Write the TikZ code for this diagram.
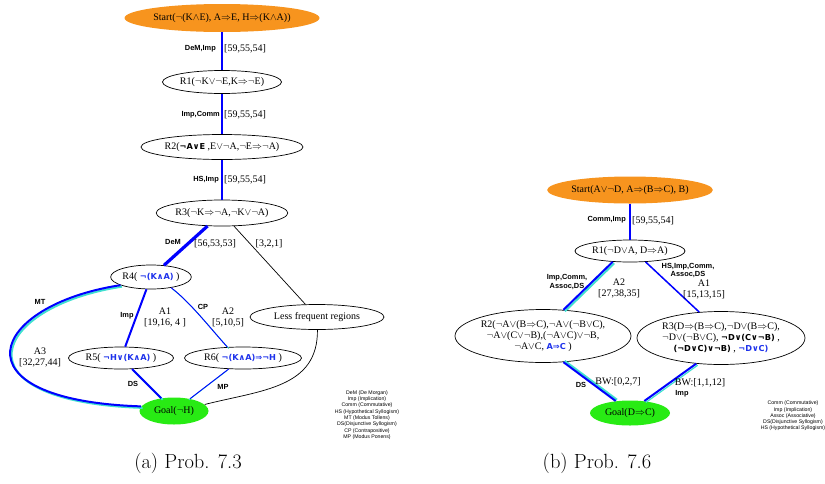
\documentclass[tikz,border=0pt]{standalone}
\usepackage{fontspec}
\newfontfamily\tms{Liberation Serif}
\newfontfamily\lsans{Liberation Sans}
\newfontfamily\bsym{DejaVu Sans}
\usetikzlibrary{shapes.geometric}
\definecolor{orng}{RGB}{247,148,30}
\definecolor{grn}{RGB}{40,235,20}
\definecolor{bl}{RGB}{0,0,255}
\definecolor{cy}{RGB}{64,224,208}
\definecolor{tb}{RGB}{30,50,235}
\newcommand{\qneg}{\ensuremath{\neg}}
\newcommand{\qand}{\ensuremath{\wedge}}
\newcommand{\qor}{\ensuremath{\vee}}
\newcommand{\qimp}{\ensuremath{\Rightarrow}}
\newcommand{\bform}[1]{{\bsym\bfseries\fontsize{8.2}{10}\selectfont #1}}
\newcommand{\bformc}[1]{{\color{tb}\bsym\bfseries\fontsize{8.2}{10}\selectfont #1}}
\begin{document}
\begin{tikzpicture}[x=1pt,y=-1pt,
  nd/.style={ellipse, draw=black, line width=0.7pt, inner sep=0pt, font=\tms\fontsize{10}{11}\selectfont, align=center},
  lab/.style={font=\lsans\bfseries\fontsize{7.4}{8.6}\selectfont, inner sep=0pt, align=center},
  num/.style={font=\tms\fontsize{10}{11}\selectfont, inner sep=0pt, align=center},
  leg/.style={font=\lsans\fontsize{5.2}{6.3}\selectfont, inner sep=0pt, align=center},
  captxt/.style={font=\fontsize{20.5}{24}\selectfont, inner sep=0pt},
  thk/.style={draw=bl, line width=2.8pt},
  med/.style={draw=bl, line width=2pt},
  thn/.style={draw=bl, line width=0.9pt},
  blk/.style={draw=black, line width=0.7pt},
  cyshift/.style={transform canvas={shift={(1.5pt,-1.5pt)}}}
]
\useasboundingbox (0,0) rectangle (825,483);

% ---------- left diagram ----------
\node[nd, fill=orng, draw=none, minimum width=195pt, minimum height=28pt] (sL) at (222,18) {Start(\qneg(K\qand E), A\qimp E, H\qimp(K\qand A))};
\node[nd, minimum width=115pt, minimum height=23pt] (r1L) at (222,82) {R1(\qneg K\qor\qneg E,K\qimp\qneg E)};
\node[nd, minimum width=150pt, minimum height=25pt] (r2L) at (222,147) {R2(\bform{¬A∨E} ,E\qor\qneg A,\qneg E\qimp\qneg A)};
\node[nd, minimum width=125pt, minimum height=26pt] (r3L) at (222,213) {R3(\qneg K\qimp\qneg A,\qneg K\qor\qneg A)};
\node[nd, minimum width=76pt, minimum height=24pt] (r4L) at (151,277) {R4( \bformc{¬(K∧A)} )};
\node[nd, minimum width=105pt, minimum height=22pt] (r5L) at (121,358) {R5( \bformc{¬H∨(K∧A)} )};
\node[nd, minimum width=117pt, minimum height=22pt] (r6L) at (243,358) {R6( \bformc{¬(K∧A)⇒¬H} )};
\node[nd, minimum width=134pt, minimum height=25pt] (lessL) at (317,317) {Less frequent regions};
\node[nd, fill=grn, draw=none, minimum width=69pt, minimum height=27pt] (gL) at (174,411) {Goal(\qneg H)};

\draw[thk] (sL) -- (r1L);
\draw[thk] (r1L) -- (r2L);
\draw[thk] (r2L) -- (r3L);
\draw[draw=bl, line width=3.2pt] (r3L) -- (r4L);
\draw[blk] (r3L) -- (lessL);
\draw[med] (r4L) -- (r5L);
\draw[draw=cy, line width=2pt, cyshift] (r4L.195) .. controls (-10,305) and (-50,400) .. (gL.172);
\draw[med] (r4L.195) .. controls (-10,305) and (-50,400) .. (gL.172);
\draw[draw=cy, line width=0.9pt, cyshift] (r4L.-28) .. controls (190,302) and (210,328) .. (r6L.145);
\draw[thn] (r4L.-28) .. controls (190,302) and (210,328) .. (r6L.145);
\draw[draw=cy, line width=2pt, cyshift] (r5L) -- (gL);
\draw[med] (r5L) -- (gL);
\draw[draw=cy, line width=0.9pt, transform canvas={shift={(-1.2pt,-1.2pt)}}] (r6L) -- (gL);
\draw[thn] (r6L) -- (gL);
\draw[blk] (lessL.-88) .. controls (318,388) and (262,390) .. (gL.12);

\node[lab, anchor=east] (l1) at (216,49) {DeM,Imp};
\node[num, anchor=west] (n1) at (224,49) {[59,55,54]};
\node[lab, anchor=east] (l2) at (220,115) {Imp,Comm};
\node[num, anchor=west] (n2) at (224,115) {[59,55,54]};
\node[lab, anchor=east] (l3) at (219,180) {HS,Imp};
\node[num, anchor=west] (n3) at (224,180) {[59,55,54]};
\node[lab] (l4) at (173,242) {DeM};
\node[num] (n4) at (215,244) {[56,53,53]};
\node[num] (n5) at (269,244) {[3,2,1]};
\node[lab] (l5) at (127,316) {Imp};
\node[num] (n6) at (165,317) {A1\\{}[19,16, 4 ]};
\node[lab] (l6) at (203,307) {CP};
\node[num] (n7) at (228,317) {A2\\{}[5,10,5]};
\node[lab] (l7) at (40,302) {MT};
\node[num] (n8) at (40,357) {A3\\{}[32,27,44]};
\node[lab] (l8) at (133,384) {DS};
\node[lab] (l9) at (223,387) {MP};
\node[leg] (legL) at (367,415) {DeM (De Morgan)\\Imp (Implication)\\Comm (Commutative)\\HS (Hypothetical Syllogism)\\MT (Modus Tollens)\\DS(Disjunctive Syllogism)\\CP (Contrapositive)\\MP (Modus Ponens)};

% ---------- right diagram ----------
\node[nd, fill=orng, draw=none, minimum width=165pt, minimum height=27pt] (sR) at (630,190) {Start(A\qor\qneg D, A\qimp(B\qimp C), B)};
\node[nd, minimum width=110pt, minimum height=22pt] (r1R) at (630,251) {R1(\qneg D\qor A, D\qimp A)};
\node[nd, minimum width=167pt, minimum height=53pt] (r2R) at (543,336) {R2(\qneg A\qor(B\qimp C),\qneg A\qor(\qneg B\qor C),\\\qneg A\qor(C\qor\qneg B),(\qneg A\qor C)\qor\qneg B,\\\qneg A\qor C, \bformc{A⇒C} )};
\node[nd, minimum width=168pt, minimum height=53pt] (r3R) at (721,338) {R3(D\qimp(B\qimp C),\qneg D\qor(B\qimp C),\\\qneg D\qor(\qneg B\qor C), \bform{¬D∨(C∨¬B)} ,\\\bform{(¬D∨C)∨¬B)} , \bformc{¬D∨C)}};
\node[nd, fill=grn, draw=none, minimum width=80pt, minimum height=25pt] (gR) at (630,413) {Goal(D\qimp C)};

\draw[thk] (sR) -- (r1R);
\draw[draw=cy, line width=2pt, cyshift] (r1R.212) -- (r2R.52);
\draw[med] (r1R.212) -- (r2R.52);
\draw[draw=bl, line width=1.5pt] (r1R.-35) -- (r3R.130);
\draw[draw=cy, line width=2pt, transform canvas={shift={(1.3pt,1.3pt)}}] (r2R.-52) -- (gR.140);
\draw[med] (r2R.-52) -- (gR.140);
\draw[draw=cy, line width=1.2pt, cyshift] (r3R.-134) -- (gR.40);
\draw[med] (r3R.-134) -- (gR.40);

\node[lab, anchor=east] (l10) at (626,220) {Comm,Imp};
\node[num, anchor=west] (n10) at (632,221) {[59,55,54]};
\node[lab] (l11) at (567,282) {Imp,Comm,\\Assoc,DS};
\node[num] (n11) at (619,288) {A2\\{}[27,38,35]};
\node[lab] (l12) at (688,270.5) {HS,Imp,Comm,\\Assoc,DS};
\node[num] (n12) at (704,289.5) {A1\\{}[15,13,15]};
\node[lab] (l13) at (581,385) {DS};
\node[num] (n13) at (618,382) {BW:[0,2,7]};
\node[num] (n14) at (700,383) {BW:[1,1,12]};
\node[lab] (l14) at (682,394) {Imp};
\node[leg] (legR) at (793,416) {Comm (Commutative)\\Imp (Implication)\\Assoc (Associative)\\DS(Disjunctive Syllogism)\\HS (Hypothetical Syllogism)};

% ---------- captions ----------
\node[captxt] (capa) at (188,463) {(a) Prob. 7.3};
\node[captxt] (capb) at (597,463) {(b) Prob. 7.6};
\end{tikzpicture}
\end{document}
